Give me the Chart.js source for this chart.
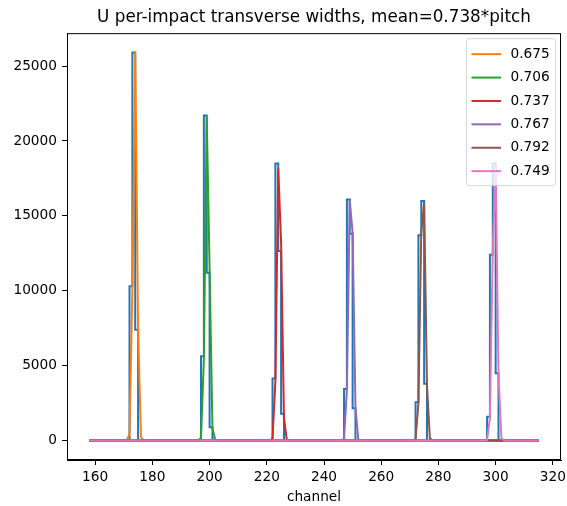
<!DOCTYPE html>
<html>
<head>
<meta charset="utf-8">
<script src="https://cdn.jsdelivr.net/npm/chart.js@4.4.1/dist/chart.umd.min.js"></script>
<style>
  html, body { margin: 0; padding: 0; background: #fff; }
  #wrap { width: 567px; height: 506px; }
</style>
</head>
<body>
<div id="wrap"><canvas id="chart" width="567" height="506"></canvas></div>
<script>
const titleText = 'U per-impact transverse widths, mean=0.738*pitch'
const xTitle = 'channel'
const xTicks = [160, 180, 200, 220, 240, 260, 280, 300, 320]
const yTicks = [0, 5000, 10000, 15000, 20000, 25000]

// histogram, drawn as matplotlib-style 'pre' steps
const histChannels = [158, 172, 173, 174, 175, 176, 197, 198, 199, 200, 201, 202, 222, 223, 224, 225, 226, 227, 247, 248, 249, 250, 251, 252, 272, 273, 274, 275, 276, 277, 297, 298, 299, 300, 301, 302, 315]
const histCounts = [0, 0, 10300, 25900, 7400, 0, 0, 5630, 21700, 11200, 890, 0, 0, 4140, 18500, 12650, 1800, 0, 0, 3450, 16100, 13800, 2160, 0, 0, 2560, 13700, 16000, 3790, 0, 0, 1600, 12400, 18500, 4500, 0, 0]

// gaussian fits, one per impact
const fitLabels = ['0.675', '0.706', '0.737', '0.767', '0.792', '0.749']
const fitColors = ['#ff7f0e', '#2ca02c', '#d62728', '#9467bd', '#8c564b', '#e377c2']
const fit675Channels = [158, 171, 172, 173, 174, 175, 176, 177, 315]
const fit675Counts = [0, 0, 430, 10030, 25980, 7490, 240, 0, 0]
const fit706Channels = [158, 196, 197, 198, 199, 200, 201, 202, 203, 315]
const fit706Counts = [0, 0, 190, 5460, 21600, 11490, 830, 10, 0, 0]
const fit737Channels = [158, 221, 222, 223, 224, 225, 226, 227, 228, 315]
const fit737Counts = [0, 0, 140, 3970, 18170, 13180, 1520, 30, 0, 0]
const fit767Channels = [158, 246, 247, 248, 249, 250, 251, 252, 253, 315]
const fit767Counts = [0, 0, 130, 3400, 16060, 13850, 2180, 60, 0, 0]
const fit792Channels = [158, 271, 272, 273, 274, 275, 276, 277, 278, 315]
const fit792Counts = [0, 0, 90, 2470, 13900, 15870, 3680, 170, 0, 0]
const fit749Channels = [158, 296, 297, 298, 299, 300, 301, 302, 303, 315]
const fit749Counts = [0, 0, 30, 1510, 12780, 18270, 4390, 180, 0, 0]

const fitChannels = [fit675Channels, fit706Channels, fit737Channels, fit767Channels, fit792Channels, fit749Channels]
const fitCounts = [fit675Counts, fit706Counts, fit737Counts, fit767Counts, fit792Counts, fit749Counts]

const font = 'DejaVu Sans'
const toPoints = (xs, ys) => xs.map((x, i) => ({ x: x, y: ys[i] }))

const datasets = [{
    label: 'data',
    data: toPoints(histChannels, histCounts),
    borderColor: '#1f77b4',
    borderWidth: 2,
    stepped: 'after',
    pointRadius: 0,
    order: 6
}]
fitLabels.forEach(function (label, i) {
    datasets.push({
        label: label,
        data: toPoints(fitChannels[i], fitCounts[i]),
        borderColor: fitColors[i],
        borderWidth: 2,
        pointRadius: 0,
        order: 5 - i
    })
})

// axes frame on all four sides, like matplotlib spines
const framePlugin = {
    id: 'frame',
    afterDatasetsDraw(chart) {
        const { ctx, chartArea } = chart
        ctx.save()
        ctx.strokeStyle = '#000'
        ctx.lineWidth = 1
        ctx.strokeRect(chartArea.left + 0.5, chartArea.top + 0.5, chartArea.right - chartArea.left - 1, chartArea.bottom - chartArea.top - 1)
        ctx.restore()
    }
}

// boxed legend in the upper right corner
const legendPlugin = {
    id: 'boxLegend',
    afterDraw(chart) {
        const { ctx, chartArea } = chart
        const w = 89, h = 147
        const right = chartArea.right - 6
        const left = right - w
        const top = chartArea.top + 5
        ctx.save()
        ctx.beginPath()
        ctx.roundRect(left + 0.5, top + 0.5, w, h, 3)
        ctx.fillStyle = 'rgba(255,255,255,0.8)'
        ctx.fill()
        ctx.strokeStyle = 'rgba(204,204,204,0.8)'
        ctx.lineWidth = 1
        ctx.stroke()
        ctx.font = '13.7px "' + font + '"'
        ctx.textBaseline = 'middle'
        ctx.fillStyle = '#000'
        fitLabels.forEach(function (label, i) {
            const y = top + 16 + i * 23.4
            ctx.strokeStyle = fitColors[i]
            ctx.lineWidth = 2
            ctx.beginPath()
            ctx.moveTo(left + 5.5, y)
            ctx.lineTo(left + 35, y)
            ctx.stroke()
            ctx.fillText(label, left + 44.5, y)
        })
        ctx.restore()
    }
}

new Chart(document.getElementById('chart'), {
    type: 'line',
    data: { datasets: datasets },
    options: {
        responsive: false,
        animation: false,
        layout: { padding: { left: 0, right: 6, top: 0, bottom: 0 } },
        plugins: {
            legend: { display: false },
            tooltip: { enabled: false },
            title: {
                display: true,
                text: titleText,
                fullSize: false,
                color: '#000',
                font: { family: font, size: 16.8, weight: 'normal', lineHeight: 1.2 },
                padding: { top: 8, bottom: 5 }
            }
        },
        scales: {
            x: {
                type: 'linear',
                min: 150.15,
                max: 322.85,
                afterBuildTicks: function (scale) { scale.ticks = xTicks.map(v => ({ value: v })) },
                afterFit: function (scale) {
                    scale.height = 46
                    scale.paddingLeft = 0
                    scale.paddingRight = 0
                },
                grid: { drawOnChartArea: false, tickLength: 5, tickColor: '#000' },
                border: { color: '#000', width: 1 },
                ticks: { color: '#000', padding: 4, maxRotation: 0, font: { family: font, size: 13.7 }, callback: v => String(v) },
                title: { display: true, text: xTitle, color: '#000', padding: { top: 0, bottom: 0 }, font: { family: font, size: 13.7 } }
            },
            y: {
                type: 'linear',
                min: -1295,
                max: 27195,
                afterBuildTicks: function (scale) { scale.ticks = yTicks.map(v => ({ value: v })) },
                afterFit: function (scale) { scale.width = 67 },
                grid: { drawOnChartArea: false, tickLength: 5, tickColor: '#000' },
                border: { color: '#000', width: 1 },
                ticks: { color: '#000', padding: 5, font: { family: font, size: 13.7 }, callback: v => String(v) }
            }
        }
    },
    plugins: [framePlugin, legendPlugin]
})
</script>
</body>
</html>
